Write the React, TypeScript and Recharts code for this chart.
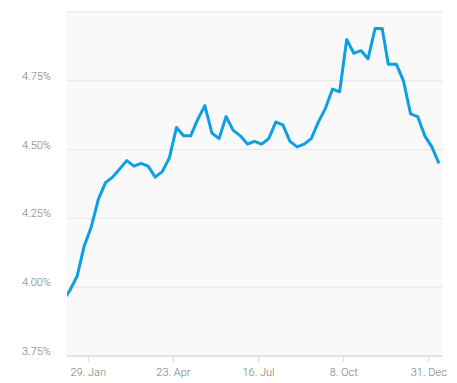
import React from 'react';
import { LineChart, Line, XAxis, YAxis, CartesianGrid } from 'recharts';

const dates: string[] = [
  '2018-01-04', '2018-01-11', '2018-01-18', '2018-01-25',
  '2018-02-01', '2018-02-08', '2018-02-15', '2018-02-22',
  '2018-03-01', '2018-03-08', '2018-03-15', '2018-03-22', '2018-03-29',
  '2018-04-05', '2018-04-12', '2018-04-19', '2018-04-26',
  '2018-05-03', '2018-05-10', '2018-05-17', '2018-05-24', '2018-05-31',
  '2018-06-07', '2018-06-14', '2018-06-21', '2018-06-28',
  '2018-07-05', '2018-07-12', '2018-07-19', '2018-07-26',
  '2018-08-02', '2018-08-09', '2018-08-16', '2018-08-23', '2018-08-30',
  '2018-09-06', '2018-09-13', '2018-09-20', '2018-09-27',
  '2018-10-04', '2018-10-11', '2018-10-18', '2018-10-25',
  '2018-11-01', '2018-11-08', '2018-11-15', '2018-11-21', '2018-11-29',
  '2018-12-06', '2018-12-13', '2018-12-20', '2018-12-27',
  '2019-01-03', '2019-01-10',
];

const rates: number[] = [
  3.95, 3.99, 4.04, 4.15,
  4.22, 4.32, 4.38, 4.40,
  4.43, 4.46, 4.44, 4.45, 4.44,
  4.40, 4.42, 4.47, 4.58,
  4.55, 4.55, 4.61, 4.66, 4.56,
  4.54, 4.62, 4.57, 4.55,
  4.52, 4.53, 4.52, 4.54,
  4.60, 4.59, 4.53, 4.51, 4.52,
  4.54, 4.60, 4.65, 4.72,
  4.71, 4.90, 4.85, 4.86,
  4.83, 4.94, 4.94, 4.81, 4.81,
  4.75, 4.63, 4.62, 4.55,
  4.51, 4.45,
];

const xTickDates: string[] = ['2018-01-29', '2018-04-23', '2018-07-16', '2018-10-08', '2018-12-31'];
const xDomainDates: string[] = ['2018-01-08', '2019-01-14'];
const yTicks: number[] = [3.75, 4.0, 4.25, 4.5, 4.75, 5.0];
const monthNames: string[] = ['Jan', 'Feb', 'Mar', 'Apr', 'May', 'Jun', 'Jul', 'Aug', 'Sep', 'Oct', 'Nov', 'Dec'];

const toTs = (s: string) => {
  const [y, m, d] = s.split('-').map(Number);
  return Date.UTC(y, m - 1, d);
};

const data = dates.map((d, i) => ({ t: toTs(d), v: rates[i] }));
const xTicks = xTickDates.map(toTs);
const xDomain = xDomainDates.map(toTs);

const fmtDate = (t: number) => {
  const d = new Date(t);
  return `${d.getUTCDate()}. ${monthNames[d.getUTCMonth()]}`;
};

const FONT = 'Roboto, sans-serif';
const TEXT_COLOR = '#7a7a7a';

const XTick = (props: any) => {
  const { x, y, payload } = props;
  return (
    <text x={x} y={y} dy="0.71em" textAnchor="middle" fill={TEXT_COLOR} fontSize={11} fontWeight={300} fontFamily={FONT}>
      {fmtDate(payload.value)}
    </text>
  );
};

const YTick = (props: any) => {
  const { x, y, payload } = props;
  if (payload.value >= 5) return null;
  return (
    <text x={x} y={y - 1} textAnchor="end" fill={TEXT_COLOR} fontSize={11} fontWeight={300} fontFamily={FONT}>
      {payload.value.toFixed(2) + '%'}
    </text>
  );
};

export default function App() {
  return (
    <LineChart width={441} height={375} data={data} margin={{ top: 4, right: 6, bottom: 0, left: 0 }}>
      <CartesianGrid vertical={false} stroke="#e6e6e6" fill="#f9f9f9" />
      <XAxis
        dataKey="t"
        type="number"
        scale="time"
        domain={xDomain}
        allowDataOverflow
        ticks={xTicks}
        height={27}
        tick={<XTick />}
        tickSize={6}
        tickMargin={6}
        stroke="#ccd6eb"
        tickLine={{ stroke: '#ccd6eb' }}
        axisLine={{ stroke: '#ccd6eb' }}
        interval={0}
      />
      <YAxis
        type="number"
        domain={[3.75, 5.0]}
        ticks={yTicks}
        allowDataOverflow
        width={59}
        tickLine={false}
        axisLine={false}
        tickSize={0}
        tickMargin={16}
        tick={<YTick />}
        interval={0}
      />
      <Line
        type="linear"
        dataKey="v"
        stroke="#0d9fe3"
        strokeWidth={3}
        dot={false}
        activeDot={false}
        isAnimationActive={false}
        strokeLinejoin="round"
      />
    </LineChart>
  );
}
